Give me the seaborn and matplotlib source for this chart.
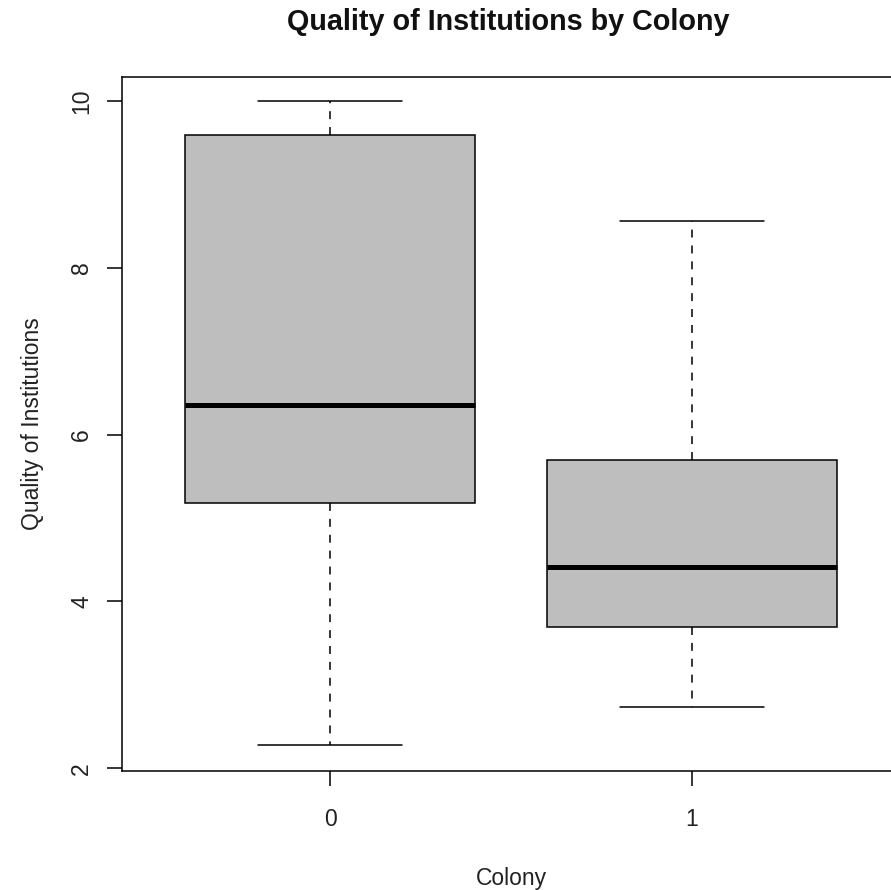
import numpy as np
import pandas as pd
import matplotlib
matplotlib.use("Agg")
import matplotlib.pyplot as plt
import seaborn as sns

# Five-number summaries per colony group (min, Q1, median, Q3, max)
colony_labels = ["0", "1"]
quality_colony0 = [2.28, 5.18, 6.35, 9.59, 10.0]
quality_colony1 = [2.73, 3.69, 4.41, 5.70, 8.56]
y_ticks = [2, 4, 6, 8, 10]

df = pd.DataFrame({
    "Colony": [colony_labels[0]] * len(quality_colony0) + [colony_labels[1]] * len(quality_colony1),
    "Quality": quality_colony0 + quality_colony1,
})

sns.set_theme(style="ticks")
plt.rcParams["font.family"] = ["Liberation Sans", "DejaVu Sans"]

fig = plt.figure(figsize=(8.91, 8.90), dpi=100)
ax = fig.add_axes([122 / 891, 1 - 771 / 890, (900 - 122) / 891, (771 - 77) / 890])

lw = 1.1
sns.boxplot(
    data=df, x="Colony", y="Quality", order=colony_labels, ax=ax,
    color="#BEBEBE", saturation=1, width=0.8, linecolor="black", linewidth=lw,
    whis=1.5, showfliers=False,
    medianprops=dict(linewidth=3.6, color="black", solid_capstyle="butt"),
    whiskerprops=dict(linestyle=(0, (5.2, 5.2)), linewidth=lw, color="black"),
    capprops=dict(linewidth=lw, color="black"),
    boxprops=dict(linewidth=lw, edgecolor="black"),
)

ax.set_xlim(-0.5746, 1.5746)
ax.set_ylim(1.967, 10.288)
ax.set_yticks(y_ticks)
ax.set_yticklabels([str(t) for t in y_ticks], rotation=90, va="center")

for side in ["top", "right", "left", "bottom"]:
    ax.spines[side].set_visible(True)
    ax.spines[side].set_linewidth(1.1)
    ax.spines[side].set_color("black")

ax.tick_params(axis="both", length=10.8, width=1.1, color="black",
               labelsize=16.5, labelcolor="#222222")
ax.tick_params(axis="x", pad=16)
ax.tick_params(axis="y", pad=10)

ax.set_xlabel("Colony", fontsize=16.5, color="#222222", labelpad=26)
ax.set_ylabel("Quality of Institutions", fontsize=16.5, color="#222222", labelpad=19)
fig.text(508 / 891, 1 - 22 / 890, "Quality of Institutions by Colony",
         ha="center", va="center", fontsize=20.7, fontweight="bold", color="#111111")

fig.savefig("out.png", dpi=100, facecolor="white")
